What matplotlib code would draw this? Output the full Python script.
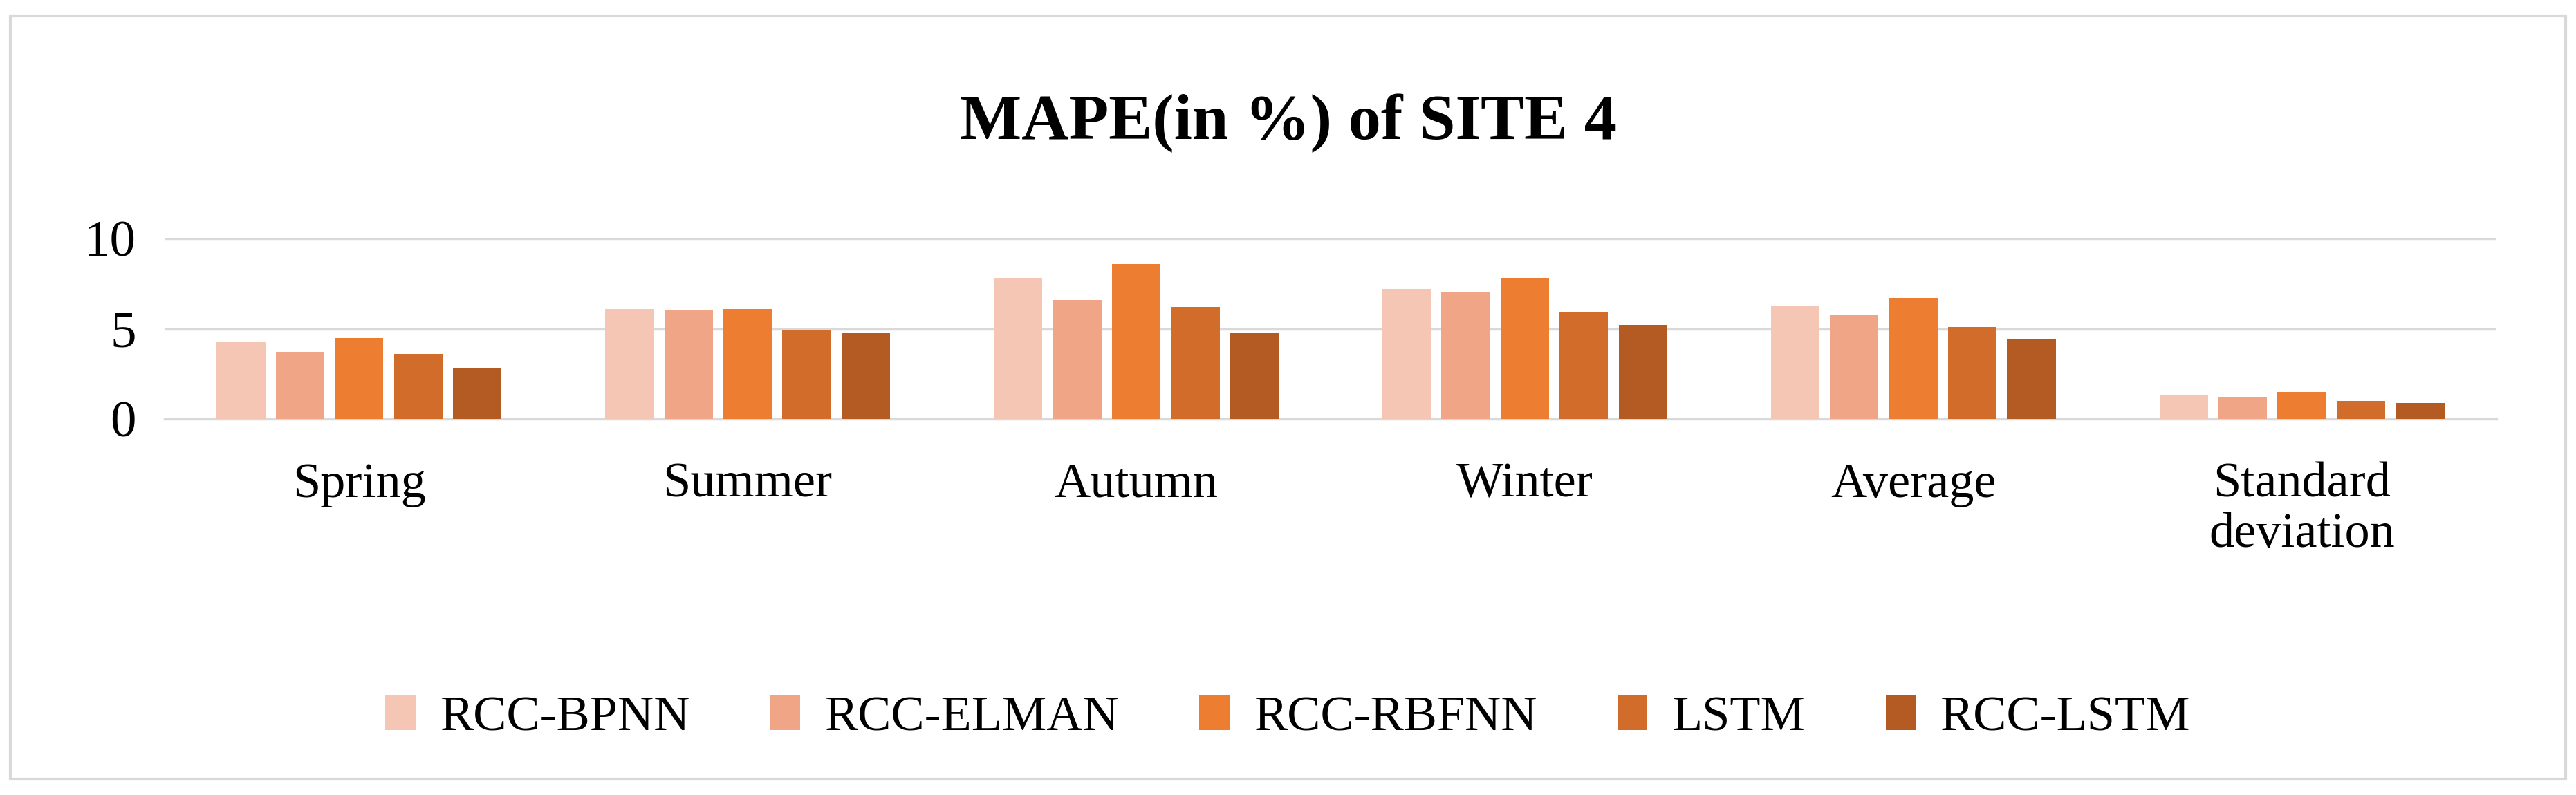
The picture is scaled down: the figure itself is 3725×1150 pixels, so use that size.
import numpy as np
import matplotlib.pyplot as plt
from matplotlib.patches import Rectangle

categories = ["Spring", "Summer", "Autumn", "Winter", "Average", "Standard\ndeviation"]
series = ["RCC-BPNN", "RCC-ELMAN", "RCC-RBFNN", "LSTM", "RCC-LSTM"]
values = [
    [4.3, 6.1, 7.8, 7.2, 6.3, 1.3],
    [3.7, 6.0, 6.6, 7.0, 5.8, 1.2],
    [4.5, 6.1, 8.6, 7.8, 6.7, 1.5],
    [3.6, 4.9, 6.2, 5.9, 5.1, 1.0],
    [2.8, 4.8, 4.8, 5.2, 4.4, 0.9],
]
colors = ["#F5C6B4", "#F0A686", "#ED7D31", "#D26C2B", "#B35B22"]

plt.rcParams['font.family'] = ['Liberation Serif', 'DejaVu Serif']

fig = plt.figure(figsize=(37.25, 11.5), dpi=100)
fig.patches.append(Rectangle((0.004, 0.02), 0.992, 0.96, transform=fig.transFigure,
                             fill=False, edgecolor="#D9D9D9", linewidth=3))
ax = fig.add_axes([0.064, 0.473, 0.905, 0.227])

x = np.arange(len(categories))
width = 0.125
step = 0.152
for i, (name, vals) in enumerate(zip(series, values)):
    ax.bar(x + (i - 2) * step, vals, width, color=colors[i], label=name, zorder=3)

ax.set_xlim(-0.5, len(categories) - 0.5)
ax.set_ylim(0, 10)
ax.set_yticks([0, 5, 10])
ax.yaxis.grid(True, color="#D9D9D9", linewidth=2.5, zorder=0)
for s in ["top", "right", "left"]:
    ax.spines[s].set_visible(False)
ax.spines["bottom"].set_color("#D9D9D9")
ax.spines["bottom"].set_linewidth(2.5)
ax.tick_params(axis="y", length=0, labelsize=54, pad=30)
ax.tick_params(axis="x", length=0, labelsize=52, pad=45)
ax.set_xticks(x)
ax.set_xticklabels(categories, linespacing=1.15)

fig.text(0.5, 0.845, "MAPE(in %) of SITE 4", ha="center", va="center",
         fontsize=68, fontweight="bold")
fig.legend(loc="center", bbox_to_anchor=(0.5, 0.097), ncol=5, frameon=False,
           fontsize=52, handlelength=0.6, handleheight=0.7, handletextpad=0.5,
           columnspacing=1.6)

fig.savefig("out.png")
